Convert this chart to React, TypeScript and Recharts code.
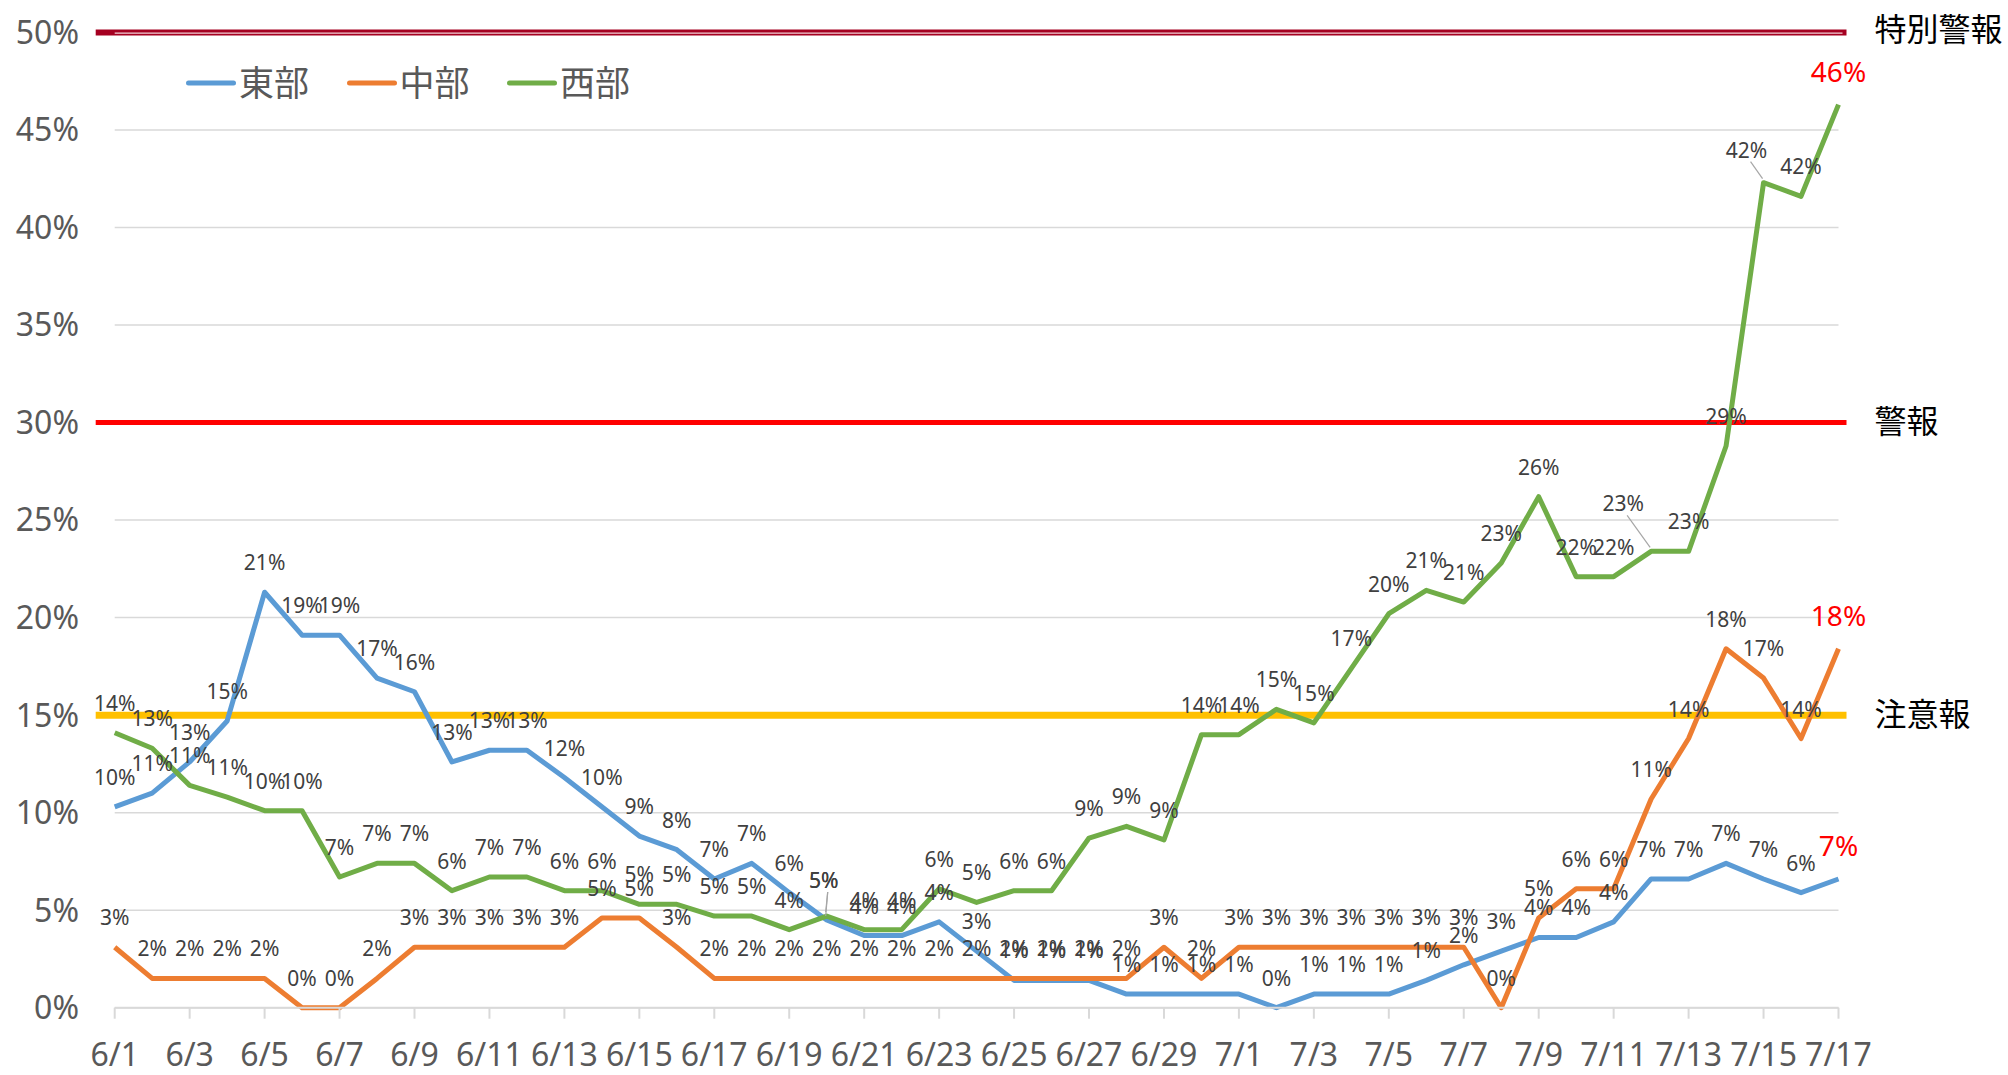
import React from 'react';
import { LineChart, Line, XAxis, YAxis, CartesianGrid, ReferenceLine, Legend, LabelList } from 'recharts';

const dates = [
  '6/1', '6/2', '6/3', '6/4', '6/5', '6/6', '6/7', '6/8', '6/9', '6/10',
  '6/11', '6/12', '6/13', '6/14', '6/15', '6/16', '6/17', '6/18', '6/19', '6/20',
  '6/21', '6/22', '6/23', '6/24', '6/25', '6/26', '6/27', '6/28', '6/29', '6/30',
  '7/1', '7/2', '7/3', '7/4', '7/5', '7/6', '7/7', '7/8', '7/9', '7/10',
  '7/11', '7/12', '7/13', '7/14', '7/15', '7/16', '7/17',
];

// 東部
const east = [
  10.3, 11.0, 12.6, 14.7, 21.3, 19.1, 19.1, 16.9, 16.2, 12.6,
  13.2, 13.2, 11.8, 10.3, 8.8, 8.1, 6.6, 7.4, 5.9, 4.5,
  3.7, 3.7, 4.4, 2.9, 1.4, 1.4, 1.4, 0.7, 0.7, 0.7,
  0.7, 0.0, 0.7, 0.7, 0.7, 1.4, 2.2, 2.9, 3.6, 3.6,
  4.4, 6.6, 6.6, 7.4, 6.6, 5.9, 6.6,
];

// 中部
const central = [
  3.1, 1.5, 1.5, 1.5, 1.5, 0.0, 0.0, 1.5, 3.1, 3.1,
  3.1, 3.1, 3.1, 4.6, 4.6, 3.1, 1.5, 1.5, 1.5, 1.5,
  1.5, 1.5, 1.5, 1.5, 1.5, 1.5, 1.5, 1.5, 3.1, 1.5,
  3.1, 3.1, 3.1, 3.1, 3.1, 3.1, 3.1, 0.0, 4.6, 6.1,
  6.1, 10.7, 13.8, 18.4, 16.9, 13.8, 18.4,
];

// 西部
const west = [
  14.1, 13.3, 11.4, 10.8, 10.1, 10.1, 6.7, 7.4, 7.4, 6.0,
  6.7, 6.7, 6.0, 6.0, 5.3, 5.3, 4.7, 4.7, 4.0, 4.7,
  4.0, 4.0, 6.1, 5.4, 6.0, 6.0, 8.7, 9.3, 8.6, 14.0,
  14.0, 15.3, 14.6, 17.4, 20.2, 21.4, 20.8, 22.8, 26.2, 22.1,
  22.1, 23.4, 23.4, 28.8, 42.3, 41.6, 46.3,
];

const seriesKeys = ['east', 'central', 'west'];
const seriesNames = ['東部', '中部', '西部'];
const seriesColors = ['#5B9BD5', '#ED7D31', '#70AD47'];
const yTicks = [0, 5, 10, 15, 20, 25, 30, 35, 40, 45, 50];
const levels = [50, 30, 15];
const levelNames = ['特別警報', '警報', '注意報'];

const data = dates.map((date, i) => ({ date, east: east[i], central: central[i], west: west[i] }));

const FONT = "'Noto Sans', 'Noto Sans CJK JP', sans-serif";
const LAST = dates.length - 1;

const levelStyles = [
  { stroke: '#A50021', width: 6, inner: '#F2D2D8', dy: -4 },
  { stroke: '#FF0000', width: 5, inner: '', dy: -2 },
  { stroke: '#FFC000', width: 7, inner: '', dy: -2 },
];

// labels that were dragged away from their point (with a leader line)
const labelNudges: Record<string, { dx: number; dy: number }> = {
  'east-19': { dx: -3, dy: -10 },
  'west-19': { dx: -3, dy: -6 },
  'west-41': { dx: -28, dy: -18 },
  'west-44': { dx: -17, dy: -3 },
};

function makeLabel(key: string) {
  return (props: any) => {
    const vb = props.viewBox || {};
    const x = props.x ?? vb.x;
    const y = props.y ?? vb.y;
    if (x == null || y == null || props.value == null) return null;
    const last = props.index === LAST;
    const nudge = labelNudges[`${key}-${props.index}`];
    const lx = x + (nudge ? nudge.dx : 0);
    const ly = y - (last ? 34 : 30) + (nudge ? nudge.dy : 0);
    return (
      <g>
        {nudge && (
          <line x1={lx + 4} y1={ly + 12} x2={x - 1} y2={y - 4} stroke="#A6A6A6" strokeWidth={1.2} />
        )}
        <text
          x={lx}
          y={ly}
          textAnchor="middle"
          dominantBaseline="central"
          fontSize={last ? 28 : 21}
          fill={last ? '#FF0000' : '#404040'}
        >
          {Math.round(props.value)}%
        </text>
      </g>
    );
  };
}

function levelShape(i: number) {
  return (p: any) => {
    const s = levelStyles[i];
    const left = Math.min(p.x1, p.x2);
    const right = Math.max(p.x1, p.x2);
    return (
      <g>
        <line x1={left - 19} x2={right + 8} y1={p.y1} y2={p.y1} stroke={s.stroke} strokeWidth={s.width} />
        {s.inner && (
          <line x1={left} x2={right + 4} y1={p.y1 + 0.6} y2={p.y1 + 0.6} stroke={s.inner} strokeWidth={1.3} />
        )}
        <text x={right + 36} y={p.y1 + s.dy} dominantBaseline="central" fontSize={32} fill="#000">
          {levelNames[i]}
        </text>
      </g>
    );
  };
}

function LegendContent(props: any) {
  const items = (props.payload || [])
    .filter((it: any) => seriesNames.includes(it.value))
    .sort((a: any, b: any) => seriesNames.indexOf(a.value) - seriesNames.indexOf(b.value));
  return (
    <div style={{ display: 'flex', alignItems: 'center' }}>
      {items.map((it: any) => (
        <div key={it.value} style={{ display: 'flex', alignItems: 'center', width: 160.5 }}>
          <svg width={53} height={10}>
            <line x1={2.5} x2={47.5} y1={5} y2={5} stroke={it.color} strokeWidth={5} strokeLinecap="round" />
          </svg>
          <span style={{ fontSize: 35, color: '#595959', lineHeight: '42px', fontFamily: FONT }}>{it.value}</span>
        </div>
      ))}
    </div>
  );
}

export default function App() {
  return (
    <div style={{ position: 'absolute', left: 0, top: 0, width: 2008, height: 1075, background: '#fff', fontFamily: FONT }}>
      <LineChart width={2008} height={1075} data={data} margin={{ top: 32.5, right: 169.5, left: 0, bottom: 0 }}>
        <CartesianGrid vertical={false} stroke="#D9D9D9" strokeWidth={1.5} />
        <XAxis
          dataKey="date"
          interval={1}
          height={67.3}
          tickSize={11}
          tickMargin={25}
          axisLine={{ stroke: '#D9D9D9', strokeWidth: 2 }}
          tickLine={{ stroke: '#D9D9D9', strokeWidth: 2 }}
          tick={{ fontSize: 32, fill: '#595959' }}
        />
        <YAxis
          domain={[0, 50]}
          ticks={yTicks}
          width={114.7}
          tickSize={0}
          tickMargin={35.7}
          axisLine={false}
          tickLine={false}
          tick={{ fontSize: 32, fill: '#595959' }}
          tickFormatter={(v: number) => `${v}%`}
        />
        {levels.map((lv, i) => (
          <ReferenceLine key={lv} y={lv} shape={levelShape(i)} />
        ))}
        <Legend
          layout="horizontal"
          verticalAlign="middle"
          align="center"
          content={LegendContent}
          wrapperStyle={{ left: 186, top: 62, width: 520 }}
        />
        {seriesKeys.map((k, i) => (
          <Line
            key={k}
            type="linear"
            dataKey={k}
            name={seriesNames[i]}
            stroke={seriesColors[i]}
            strokeWidth={5}
            strokeLinejoin="round"
            dot={false}
            activeDot={false}
            isAnimationActive={false}
          />
        ))}
        {/* labels drawn on top of all lines */}
        {seriesKeys.map((k) => (
          <Line key={`lbl-${k}`} dataKey={k} stroke="none" legendType="none" dot={false} activeDot={false} isAnimationActive={false}>
            <LabelList dataKey={k} content={makeLabel(k)} />
          </Line>
        ))}
      </LineChart>
    </div>
  );
}
